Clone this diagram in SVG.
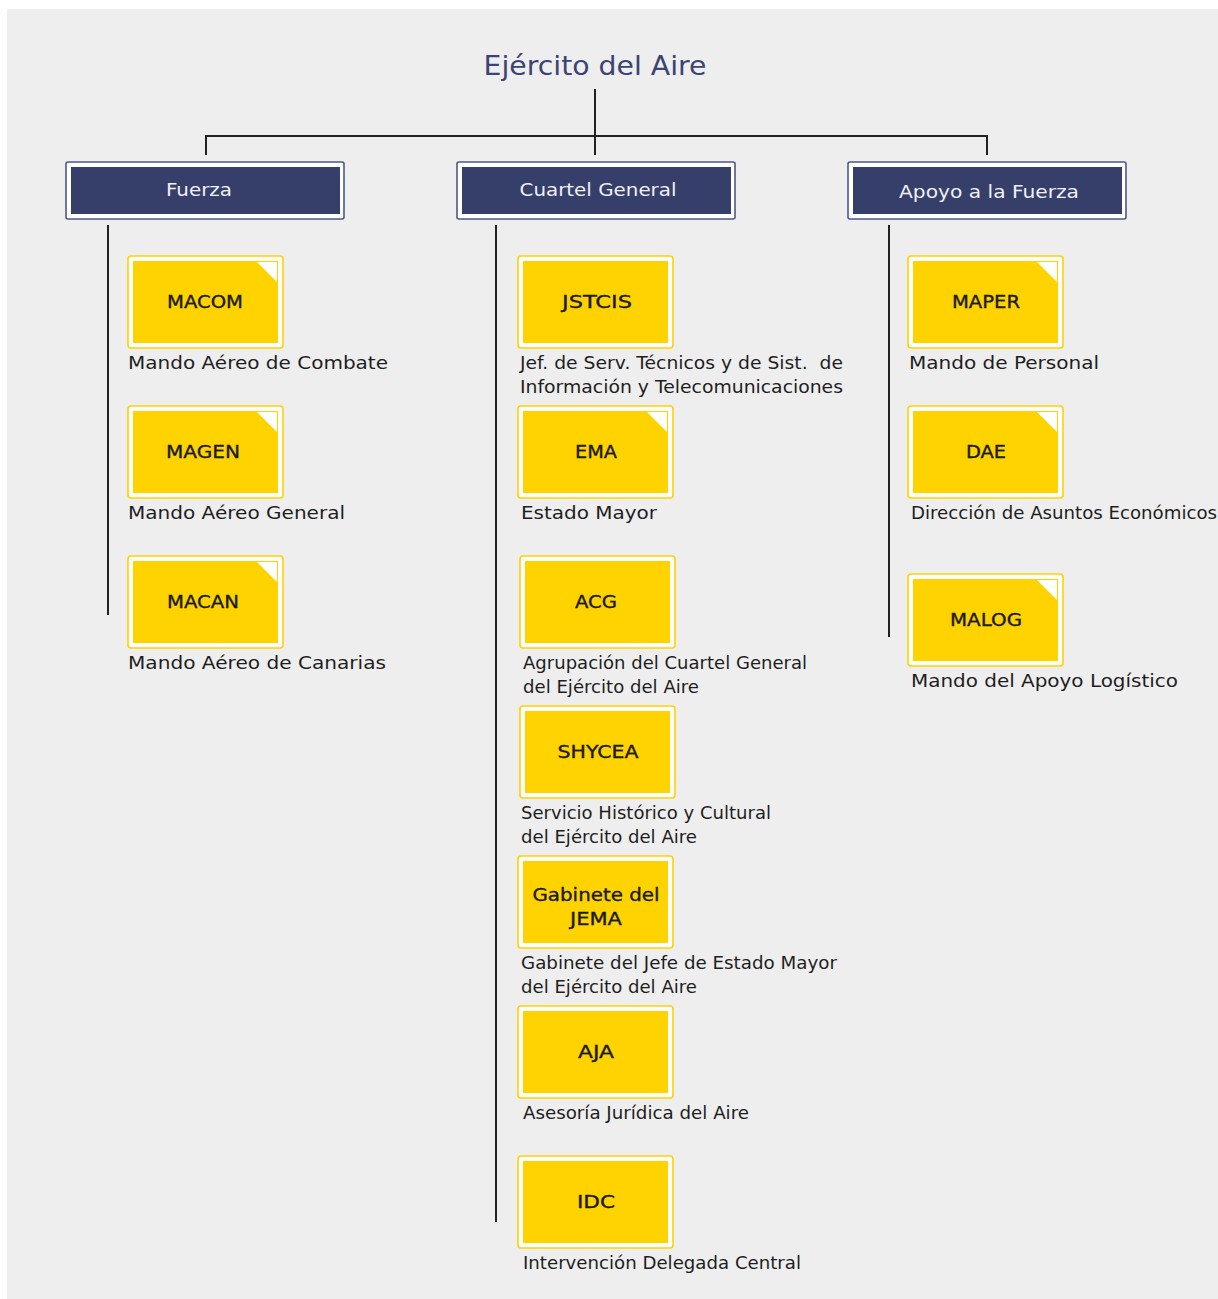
<svg xmlns="http://www.w3.org/2000/svg" width="1218" height="1299" viewBox="0 0 1218 1299">
<defs>
<style>
.bg{fill:#eeeeee}
.hdo{fill:#ffffff;stroke:#4d5788;stroke-width:1.6}
.hdi{fill:#363f6a}
.hdt{font-family:"DejaVu Sans","Liberation Sans",sans-serif;font-size:18px;fill:#f0f0f6;text-anchor:middle}
.title{font-family:"DejaVu Sans","Liberation Sans",sans-serif;font-size:27px;fill:#3b4472;text-anchor:middle}
.yo{fill:#ffffff;stroke:#ffd200;stroke-width:1.6}
.yi{fill:#ffd300}
.tri{fill:#ffffff}
.bt{font-family:"DejaVu Sans","Liberation Sans",sans-serif;font-size:17px;fill:#1a1a1a;text-anchor:middle;stroke:#1a1a1a;stroke-width:0.35}
.lb{font-family:"DejaVu Sans","Liberation Sans",sans-serif;font-size:18px;fill:#1e1e1e}
.lc{font-family:"DejaVu Sans","Liberation Sans",sans-serif;font-size:17.5px;fill:#1e1e1e}
.ln{stroke:#222222;stroke-width:2;fill:none}
</style>
</defs>
<rect class="bg" x="7" y="9" width="1211" height="1290"/>
<text class="title" x="595" y="75" textLength="223" lengthAdjust="spacingAndGlyphs">Ejército del Aire</text>
<g id="connectors">
<line class="ln" x1="595" y1="89" x2="595" y2="155"/>
<polyline class="ln" points="206,155 206,136 987,136 987,155"/>
<line class="ln" x1="108" y1="225" x2="108" y2="615"/>
<line class="ln" x1="496" y1="225" x2="496" y2="1222"/>
<line class="ln" x1="889" y1="225" x2="889" y2="637"/>
</g>
<g id="h-fuerza">
<rect class="hdo" x="66" y="162" width="278" height="57" rx="2"/>
<rect class="hdi" x="71" y="167" width="269" height="47"/>
<text class="hdt" x="199" y="196" textLength="66" lengthAdjust="spacingAndGlyphs">Fuerza</text>
</g>
<g id="h-cuartel">
<rect class="hdo" x="457" y="162" width="278" height="57" rx="2"/>
<rect class="hdi" x="462" y="167" width="269" height="47"/>
<text class="hdt" x="598" y="196" textLength="157" lengthAdjust="spacingAndGlyphs">Cuartel General</text>
</g>
<g id="h-apoyo">
<rect class="hdo" x="848" y="162" width="278" height="57" rx="2"/>
<rect class="hdi" x="853" y="167" width="269" height="47"/>
<text class="hdt" x="989" y="198" textLength="180" lengthAdjust="spacingAndGlyphs">Apoyo a la Fuerza</text>
</g>
<g id="macom">
<rect class="yo" x="128" y="256" width="155" height="92" rx="3"/>
<rect class="yi" x="133" y="261" width="145" height="82"/>
<polygon class="tri" points="257,262 277,262 277,282"/>
<text class="bt" x="205" y="308" textLength="76" lengthAdjust="spacingAndGlyphs">MACOM</text>
<text class="lb" x="128" y="369" textLength="260" lengthAdjust="spacingAndGlyphs">Mando Aéreo de Combate</text>
</g>
<g id="magen">
<rect class="yo" x="128" y="406" width="155" height="92" rx="3"/>
<rect class="yi" x="133" y="411" width="145" height="82"/>
<polygon class="tri" points="257,412 277,412 277,432"/>
<text class="bt" x="203" y="458" textLength="74" lengthAdjust="spacingAndGlyphs">MAGEN</text>
<text class="lb" x="128" y="519" textLength="217" lengthAdjust="spacingAndGlyphs">Mando Aéreo General</text>
</g>
<g id="macan">
<rect class="yo" x="128" y="556" width="155" height="92" rx="3"/>
<rect class="yi" x="133" y="561" width="145" height="82"/>
<polygon class="tri" points="257,562 277,562 277,582"/>
<text class="bt" x="203" y="608" textLength="72" lengthAdjust="spacingAndGlyphs">MACAN</text>
<text class="lb" x="128" y="669" textLength="258" lengthAdjust="spacingAndGlyphs">Mando Aéreo de Canarias</text>
</g>
<g id="jstcis">
<rect class="yo" x="518" y="256" width="155" height="92" rx="3"/>
<rect class="yi" x="523" y="261" width="145" height="82"/>
<text class="bt" x="597" y="308" textLength="70" lengthAdjust="spacingAndGlyphs">JSTCIS</text>
<text class="lc" x="520" y="369" textLength="323" lengthAdjust="spacingAndGlyphs" xml:space="preserve">Jef. de Serv. Técnicos y de Sist.  de</text>
<text class="lc" x="520" y="393" textLength="323" lengthAdjust="spacingAndGlyphs">Información y Telecomunicaciones</text>
</g>
<g id="ema">
<rect class="yo" x="518" y="406" width="155" height="92" rx="3"/>
<rect class="yi" x="523" y="411" width="145" height="82"/>
<polygon class="tri" points="647,412 667,412 667,432"/>
<text class="bt" x="596" y="458" textLength="42" lengthAdjust="spacingAndGlyphs">EMA</text>
<text class="lb" x="521" y="519" textLength="136" lengthAdjust="spacingAndGlyphs">Estado Mayor</text>
</g>
<g id="acg">
<rect class="yo" x="520" y="556" width="155" height="92" rx="3"/>
<rect class="yi" x="525" y="561" width="145" height="82"/>
<text class="bt" x="596" y="608" textLength="42" lengthAdjust="spacingAndGlyphs">ACG</text>
<text class="lc" x="523" y="669" textLength="284" lengthAdjust="spacingAndGlyphs">Agrupación del Cuartel General</text>
<text class="lc" x="523" y="693" textLength="176" lengthAdjust="spacingAndGlyphs">del Ejército del Aire</text>
</g>
<g id="shycea">
<rect class="yo" x="520" y="706" width="155" height="92" rx="3"/>
<rect class="yi" x="525" y="711" width="145" height="82"/>
<text class="bt" x="598" y="758" textLength="81" lengthAdjust="spacingAndGlyphs">SHYCEA</text>
<text class="lc" x="521" y="819" textLength="250" lengthAdjust="spacingAndGlyphs">Servicio Histórico y Cultural</text>
<text class="lc" x="521" y="843" textLength="176" lengthAdjust="spacingAndGlyphs">del Ejército del Aire</text>
</g>
<g id="gabinete">
<rect class="yo" x="518" y="856" width="155" height="92" rx="3"/>
<rect class="yi" x="523" y="861" width="145" height="82"/>
<text class="bt" x="596" y="901" textLength="127" lengthAdjust="spacingAndGlyphs">Gabinete del</text>
<text class="bt" x="596" y="925" textLength="52" lengthAdjust="spacingAndGlyphs">JEMA</text>
<text class="lc" x="521" y="969" textLength="316" lengthAdjust="spacingAndGlyphs">Gabinete del Jefe de Estado Mayor</text>
<text class="lc" x="521" y="993" textLength="176" lengthAdjust="spacingAndGlyphs">del Ejército del Aire</text>
</g>
<g id="aja">
<rect class="yo" x="518" y="1006" width="155" height="92" rx="3"/>
<rect class="yi" x="523" y="1011" width="145" height="82"/>
<text class="bt" x="596" y="1058" textLength="36" lengthAdjust="spacingAndGlyphs">AJA</text>
<text class="lc" x="523" y="1119" textLength="226" lengthAdjust="spacingAndGlyphs">Asesoría Jurídica del Aire</text>
</g>
<g id="idc">
<rect class="yo" x="518" y="1156" width="155" height="92" rx="3"/>
<rect class="yi" x="523" y="1161" width="145" height="82"/>
<text class="bt" x="596" y="1208" textLength="38" lengthAdjust="spacingAndGlyphs">IDC</text>
<text class="lc" x="523" y="1269" textLength="278" lengthAdjust="spacingAndGlyphs">Intervención Delegada Central</text>
</g>
<g id="maper">
<rect class="yo" x="908" y="256" width="155" height="92" rx="3"/>
<rect class="yi" x="913" y="261" width="145" height="82"/>
<polygon class="tri" points="1037,262 1057,262 1057,282"/>
<text class="bt" x="986" y="308" textLength="68" lengthAdjust="spacingAndGlyphs">MAPER</text>
<text class="lb" x="909" y="369" textLength="190" lengthAdjust="spacingAndGlyphs">Mando de Personal</text>
</g>
<g id="dae">
<rect class="yo" x="908" y="406" width="155" height="92" rx="3"/>
<rect class="yi" x="913" y="411" width="145" height="82"/>
<polygon class="tri" points="1037,412 1057,412 1057,432"/>
<text class="bt" x="986" y="458" textLength="40" lengthAdjust="spacingAndGlyphs">DAE</text>
<text class="lc" x="911" y="519" textLength="306" lengthAdjust="spacingAndGlyphs">Dirección de Asuntos Económicos</text>
</g>
<g id="malog">
<rect class="yo" x="908" y="574" width="155" height="92" rx="3"/>
<rect class="yi" x="913" y="579" width="145" height="82"/>
<polygon class="tri" points="1037,580 1057,580 1057,600"/>
<text class="bt" x="986" y="626" textLength="72" lengthAdjust="spacingAndGlyphs">MALOG</text>
<text class="lb" x="911" y="687" textLength="267" lengthAdjust="spacingAndGlyphs">Mando del Apoyo Logístico</text>
</g>
</svg>
